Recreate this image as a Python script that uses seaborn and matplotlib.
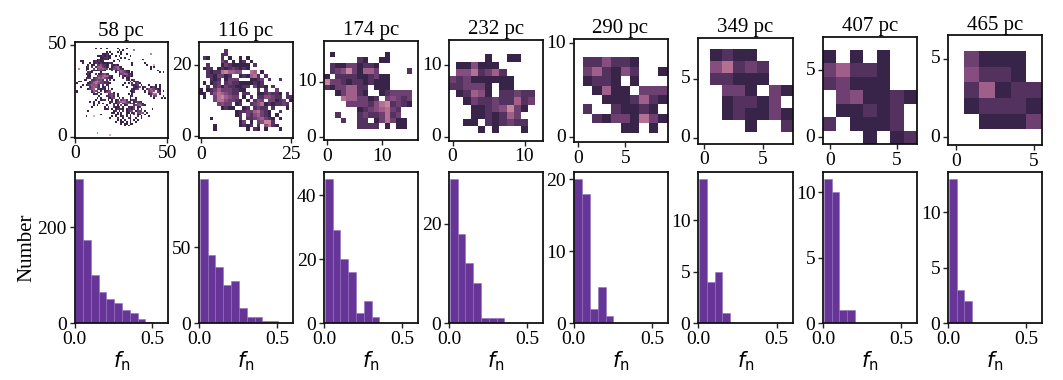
import numpy as np
import seaborn as sns
import matplotlib.pyplot as plt

# count map rows, top row first. '.' = no data, digit = colour level
grid_58 = [
    "", "", "",
    "...........1..1..1.....1....1",
    "........................1.1.....6",
    ".................1.1...1.1",
    "...............1121.1....1..1............7",
    "............11121211..1.1.....1",
    "..............112211.....1.1",
    "............1212111....1.....1.......1",
    "...11.....121211.....1..1",
    "....1...1.12312111121..........1......1",
    ".......1.11.2342211.2121.......1.......1...9",
    "......12.2.24553212.134521...............1.1",
    "..7...11..3.254543.12435421..............1",
    "......1..22122321...2.12454311...............1",
    ".......221....1.......1.254321.1..............1.1",
    "......121..2.123421.....13454221",
    ".......11...243565421...1.213231",
    "......122.23454643211.....2.11",
    ".....11..2235342.2.2.1......21.13",
    "..11....13467543223...........2.122",
    ".1.....1235654332211.......1.1.2.231",
    "....1.12354532.2.12.......1....2123.1...1...1.1",
    "...1....245432.12.1.........1...2124.12..1231.1",
    ".......1345.32121.1.1..........2123..1.24543211",
    ".1.......2543.1.1234..........112.....1.3454.31.1",
    ".1.......14.31..2454.1.........12.....1.245..23",
    "..........121.1...2342.1.....1.1........12565.1",
    ".............1...21342.1......12.........2.34...1",
    "............1.1...2133..1.2...1..1.........1...1.1",
    "...........1..122.1.1.12.3452.1222",
    "........1.1..1.....12.134565321.12321",
    "..........1..1.1...1.2134.2345232.3431",
    "..........1.1....1...2.1.3.12...2345421",
    ".........1......1.2..2112.1..1213.12",
    "................112.1.12221.12213.2.1.....1",
    ".......1.............12.1.2.1234.1334.1",
    "....................11.1.1..11.12.3454.1",
    "..............1.......11.1..1.2.2.12..1",
    "......1...9.........1.1..12.1.1...2.1...1",
    "...................1...2..1..21..1..1",
    ".......................1.1.1..1.1.1",
    "......................1..11.1.1..1",
    ".........................1.11.11",
    "...........................1.1",
    "", "", "",
    "............7",
    "...................9",
    "",
]
grid_116 = [
    "", "",
    ".......2",
    "......22",
    ".21...2.1..1.1",
    "......32.1.12.1",
    "..2...13211111.2",
    ".122.121232121",
    "..2122675544..65.1",
    "..2213312..121562.2",
    "...212.1333...1123.2..2",
    ".1.123.23221111212",
    "..2.2313221122.3121.2",
    "1.12353332211...2.2..3",
    "11.24654322.22..1123221.2",
    ".1..3675433.1.2.2244322.22",
    "....36643321.1.243.33123.1",
    ".....3433.12..23461212232",
    "......1211..12.2322.2...1",
    "..........1223356321..2",
    "..........12.3245321.1",
    "...1.......2.22345321.1",
    "...........13.1.34772",
    "....1......1212.2.4621",
    "....1........1.21.1...1",
    "",
    "",
]
grid_174 = [
    "", "",
    ".1.........1",
    "......21..11",
    ".211331221",
    ".234731553.....2",
    "1.2222112311",
    "733212212111",
    "21335522.111",
    "..135521..123333",
    "...6553312.34323",
    "....333324672321",
    "......12345632",
    "..2...23223623",
    "...2..22.136311",
    "......2222.1.11",
    "",
    "",
]
grid_232 = [
    "", "",
    ".....1..11",
    ".114111",
    ".4462352",
    "323111111",
    "223331.11",
    ".12541.22322",
    "..1322322523",
    "...11234731",
    "...1121253",
    "..11.212322",
    "....1.1...1",
    "",
]
grid_290 = [
    "", "",
    ".224221",
    ".352142..1",
    ".1221.1",
    "..1511.333",
    "...1112521",
    ".2..21121",
    "..21331631",
    ".....11.1",
    "",
]
grid_349 = [
    "",
    ".1211",
    ".46232",
    ".22111",
    "..331.31",
    "..12213",
    "..121131",
    "....1..2",
    "",
]
grid_407 = [
    "",
    "1.1.1",
    "35221",
    "23111",
    ".341121",
    ".11212",
    "2.1112",
    "...1.12",
]
grid_465 = [
    "",
    ".3111",
    ".4221",
    ".25122",
    ".12221",
    "..1113",
    "",
]
grids = [grid_58, grid_116, grid_174, grid_232, grid_290, grid_349, grid_407, grid_465]
ncols = [51, 26, 17, 13, 10, 8, 7, 6]
titles = ['58 pc', '116 pc', '174 pc', '232 pc', '290 pc', '349 pc', '407 pc', '465 pc']
map_xticks = [[0, 50], [0, 25], [0, 10], [0, 10], [0, 5], [0, 5], [0, 5], [0, 5]]
map_yticks = [[0, 50], [0, 20], [0, 10], [0, 10], [0, 10], [0, 5], [0, 5], [0, 5]]

# f_n histogram counts, bins about 0.05 wide
counts_58 = [301, 174, 100, 65, 51, 42, 27, 21, 8, 2, 1]
counts_116 = [95, 45, 37, 25, 28, 10, 4, 4, 1, 1]
counts_174 = [45, 29, 20, 16, 3, 7, 2]
counts_232 = [29, 18, 12, 8, 1, 1, 1]
counts_290 = [20, 18, 2, 5, 1]
counts_349 = [14, 4, 5, 1]
counts_407 = [11, 10, 1, 1]
counts_465 = [13, 3, 2]
counts = [counts_58, counts_116, counts_174, counts_232, counts_290, counts_349, counts_407, counts_465]
hist_yticks = [[0, 200], [0, 50], [0, 20, 40], [0, 20], [0, 10, 20], [0, 5, 10], [0, 5, 10], [0, 5, 10]]
bin_width = 0.05
bin_start = 0.005

W, H = 1063, 380
lefts = [74.5, 199, 324, 449, 573.5, 698, 823, 948]
rights = [168, 293, 417.5, 542.5, 667.5, 792.5, 917, 1042]
tops = [42, 42, 40.5, 40, 38.5, 37.5, 36.5, 35.5]
bottoms = [137.5, 138, 140, 140.5, 142, 143.5, 144, 145]

sns.set_style('white')
plt.rcParams['font.family'] = ['Liberation Serif', 'DejaVu Sans']
plt.rcParams['mathtext.fontset'] = 'dejavusans'
plt.rcParams['text.color'] = 'black'
plt.rcParams['axes.labelcolor'] = 'black'

cmap = sns.cubehelix_palette(reverse=True, as_cmap=True)


def to_array(rows, n):
    out = []
    for r in rows:
        r = r.ljust(n, '.')[:n]
        out.append([np.nan if c == '.' else int(c) for c in r])
    return np.array(out[::-1], dtype=float)


def style_ax(ax):
    for s in ax.spines.values():
        s.set_visible(True)
        s.set_color('#111111')
        s.set_linewidth(1.3)
    ax.tick_params(axis='both', length=3.5, width=1, color='#222222', pad=2,
                   labelsize=14, left=True, bottom=True, labelcolor='black')


fig = plt.figure(figsize=(W / 100, H / 100), dpi=100)

for i in range(8):
    ax = fig.add_axes([lefts[i] / W, 1 - bottoms[i] / H,
                       (rights[i] - lefts[i]) / W, (bottoms[i] - tops[i]) / H])
    z = to_array(grids[i], ncols[i])
    sns.heatmap(z, ax=ax, cmap=cmap, vmin=0.5, vmax=10.5, cbar=False)
    ax.set_aspect('auto')
    ax.invert_yaxis()
    ax.set_xticks([t + 0.5 for t in map_xticks[i]])
    ax.set_xticklabels(map_xticks[i], rotation=0)
    ax.set_yticks([t + 0.5 for t in map_yticks[i]])
    ax.set_yticklabels(map_yticks[i], rotation=0)
    style_ax(ax)
    ax.set_title(titles[i], fontsize=15, pad=4, color='black')

    ax2 = fig.add_axes([lefts[i] / W, 1 - 323 / H, (rights[i] - lefts[i]) / W, 151 / H])
    c = counts[i]
    edges = [bin_start + bin_width * k for k in range(len(c) + 1)]
    centers = [bin_start + bin_width * (k + 0.5) for k in range(len(c))]
    sns.histplot(x=centers, weights=c, bins=edges, ax=ax2, color='#5f2a92', alpha=0.95,
                 edgecolor='#8f72bb', linewidth=0.4)
    ax2.set_xlim(0, 0.6)
    ax2.set_ylim(0, max(c) * 1.05)
    ax2.set_xticks([0, 0.5])
    ax2.set_xticklabels(['0.0', '0.5'])
    ax2.set_yticks(hist_yticks[i])
    style_ax(ax2)
    ax2.set_xlabel(r'$f_{\mathrm{n}}$', fontsize=15, labelpad=1)
    ax2.set_ylabel('Number' if i == 0 else '', fontsize=15, labelpad=1)

fig.savefig('out.png', dpi=100)
